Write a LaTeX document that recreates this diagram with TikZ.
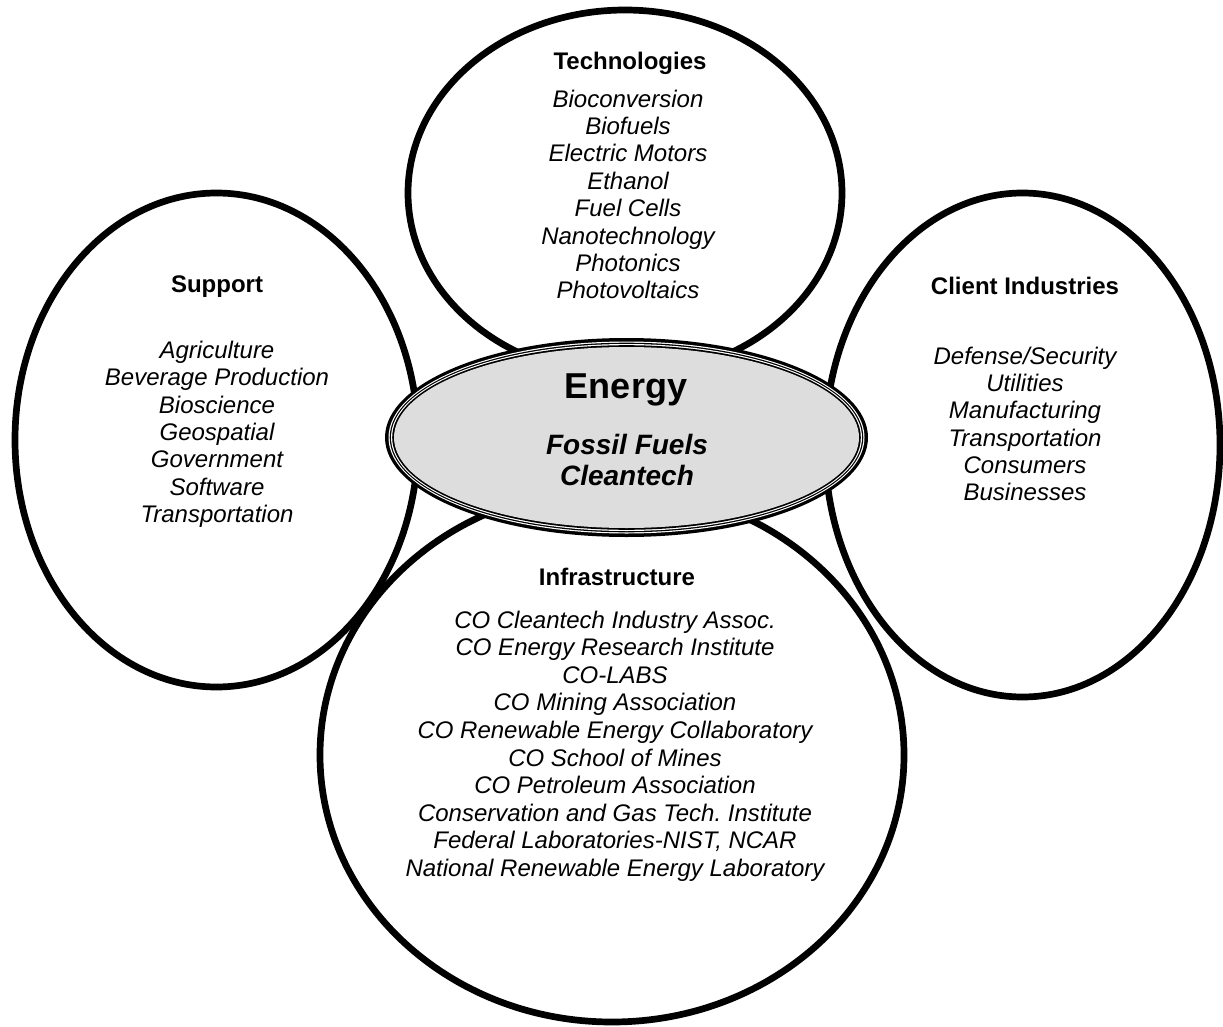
\documentclass[tikz,border=0pt]{standalone}
\usepackage{fontspec}
\setmainfont{Liberation Sans}
\frenchspacing
\definecolor{hubgray}{RGB}{221,221,221}
\begin{document}
\begin{tikzpicture}[x=1pt,y=-1pt,
  ring/.style={draw=black, line width=6.7pt},
  head/.style={inner sep=0pt, text height=17.2pt, text depth=0pt,
    font=\fontsize{24}{28}\selectfont\bfseries},
  item/.style={inner sep=0pt, text height=17.2pt, text depth=0pt,
    font=\fontsize{24}{28}\selectfont\itshape},
  hubtitle/.style={inner sep=0pt, text height=25.8pt, text depth=0pt,
    font=\fontsize{36}{40}\selectfont\bfseries},
  hubitem/.style={inner sep=0pt, text height=20pt, text depth=0pt,
    font=\fontsize{28}{32}\selectfont\bfseries\itshape},
]
\useasboundingbox (0,0) rectangle (1223,1027);
\fill[white] (0,0) rectangle (1223,1027);

% outer groups (outlines only)
\draw[ring] (625,193) ellipse [x radius=217pt, y radius=183pt];
\draw[ring] (216.5,440) ellipse [x radius=201.5pt, y radius=247pt];
\draw[ring] (1022.5,445) ellipse [x radius=197.5pt, y radius=252pt];
\draw[ring] (612,755) ellipse [x radius=292pt, y radius=267pt];

% central hub with triple border
\fill[black]   (626.5,437.5) ellipse [x radius=241.5pt, y radius=99.5pt];
\fill[white]   (626.5,437.5) ellipse [x radius=238pt,   y radius=96pt];
\fill[black]   (626.5,437.5) ellipse [x radius=236.8pt, y radius=94.8pt];
\fill[white]   (626.5,437.5) ellipse [x radius=235.5pt, y radius=93.5pt];
\fill[black]   (626.5,437.5) ellipse [x radius=234.3pt, y radius=92.3pt];
\fill[hubgray] (626.5,437.5) ellipse [x radius=232.5pt, y radius=90.5pt];

\node[hubtitle] (hubT) at (626,385.5) {Energy};
\node[hubitem] (hub1) at (627,444) {Fossil Fuels};
\node[hubitem] (hub2) at (627,475) {Cleantech};

% Technologies
\node[head] (techH) at (630,60.5) {Technologies};
\foreach \t [count=\i] in {Bioconversion, Biofuels, Electric Motors, Ethanol,
    Fuel Cells, Nanotechnology, Photonics, Photovoltaics}
  \node[item] (tech\i) at (628,{98.5+27.4*(\i-1)}) {\t};

% Support
\node[head] (supH) at (217,283.5) {Support};
\foreach \t [count=\i] in {Agriculture, Beverage Production, Bioscience,
    Geospatial, Government, Software, Transportation}
  \node[item] (sup\i) at (217,{350+27.3*(\i-1)}) {\t};

% Client Industries
\node[head] (cliH) at (1025,286) {Client Industries};
\foreach \t [count=\i] in {Defense/Security, Utilities, Manufacturing,
    Transportation, Consumers, Businesses}
  \node[item] (cli\i) at (1025,{355.5+27.3*(\i-1)}) {\t};

% Infrastructure
\node[head] (infH) at (617,576.5) {Infrastructure};
\foreach \t [count=\i] in {CO Cleantech Industry Assoc.,
    CO Energy Research Institute, CO-LABS, CO Mining Association,
    CO Renewable Energy Collaboratory, CO School of Mines,
    CO Petroleum Association, Conservation and Gas Tech. Institute,
    {Federal Laboratories-NIST, NCAR}, National Renewable Energy Laboratory}
  \node[item] (inf\i) at (615,{619.5+27.6*(\i-1)}) {\t};
\end{tikzpicture}
\end{document}
